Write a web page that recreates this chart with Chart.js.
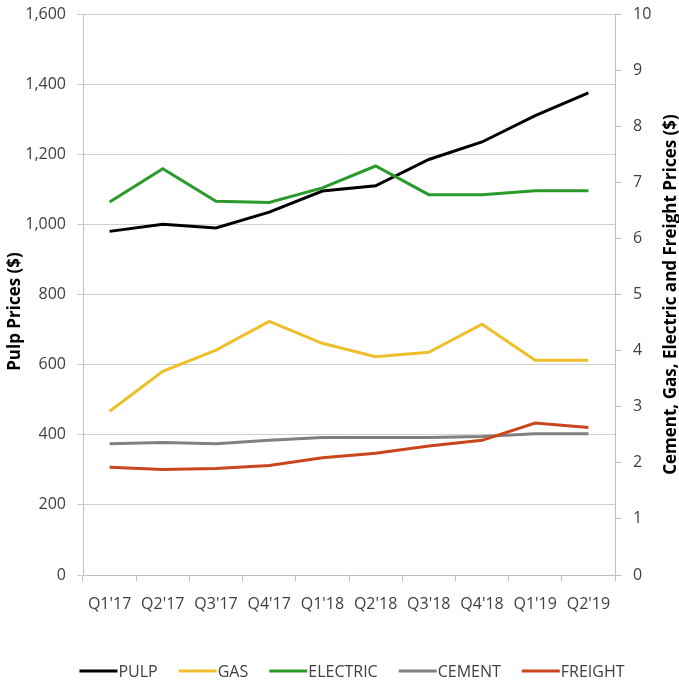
<!DOCTYPE html>
<html>
<head>
<meta charset="utf-8">
<script src="https://cdn.jsdelivr.net/npm/chart.js@4/dist/chart.umd.min.js"></script>
<style>
  html, body { margin: 0; padding: 0; background: #ffffff; }
  #wrap { width: 679px; height: 683px; }
</style>
</head>
<body>
<div id="wrap"><canvas id="chart" width="679" height="683"></canvas></div>
<script>
// Quarterly price series
const quarters = ["Q1'17", "Q2'17", "Q3'17", "Q4'17", "Q1'18", "Q2'18", "Q3'18", "Q4'18", "Q1'19", "Q2'19"];
const pulp     = [980, 1000, 990, 1035, 1095, 1110, 1185, 1235, 1310, 1375];
const gas      = [2.92, 3.63, 4.01, 4.52, 4.13, 3.89, 3.97, 4.47, 3.83, 3.83];
const electric = [6.65, 7.24, 6.66, 6.64, 6.90, 7.29, 6.78, 6.78, 6.85, 6.85];
const cement   = [2.34, 2.36, 2.34, 2.40, 2.45, 2.45, 2.45, 2.47, 2.52, 2.52];
const freight  = [1.92, 1.88, 1.90, 1.95, 2.09, 2.17, 2.30, 2.40, 2.71, 2.63];

// Axis ranges
const pulpAxis  = { min: 0, max: 1600, step: 200 };
const otherAxis = { min: 0, max: 10, step: 1 };

const seriesNames  = ["PULP", "GAS", "ELECTRIC", "CEMENT", "FREIGHT"];
const seriesColors = ["#000000", "#EEBF2A", "#2A9A2A", "#808080", "#C9461C"];

const FONT = "'Open Sans', 'DejaVu Sans', sans-serif";
const tickColor = "#404040";
const gridColor = "#d0d0d0";
const axisColor = "#bfbfbf";

function makeSet(i, data, axis, order) {
  return {
    label: seriesNames[i],
    data: data,
    yAxisID: axis,
    borderColor: seriesColors[i],
    backgroundColor: seriesColors[i],
    borderWidth: 3,
    pointRadius: 0,
    pointHoverRadius: 0,
    tension: 0,
    fill: false,
    order: order
  };
}

// Fixed axis box width; the plot edges come from layout padding only
function fixWidth(w) {
  return function (s) {
    s.width = w;
    s.paddingTop = 0;
    s.paddingBottom = 0;
  };
}

// Legend drawn as line swatches with the label right after each
const lineLegend = {
  id: 'lineLegend',
  afterDraw(chart) {
    const ctx = chart.ctx;
    const area = chart.chartArea;
    const sw = 38, gapText = 1, gapItem = 21;
    ctx.save();
    ctx.font = "16px " + FONT;
    ctx.textBaseline = 'middle';
    const sets = chart.data.datasets;
    let total = 0;
    sets.forEach((d, i) => {
      total += sw + gapText + ctx.measureText(d.label).width;
      if (i < sets.length - 1) total += gapItem;
    });
    let x = (area.left + area.right) / 2 + 3 - total / 2;
    const y = 671;
    sets.forEach(d => {
      ctx.strokeStyle = d.borderColor;
      ctx.lineWidth = 3;
      ctx.beginPath();
      ctx.moveTo(x, y);
      ctx.lineTo(x + sw, y);
      ctx.stroke();
      x += sw + gapText;
      ctx.fillStyle = tickColor;
      ctx.textAlign = 'left';
      ctx.fillText(d.label, x, y + 1);
      x += ctx.measureText(d.label).width + gapItem;
    });
    ctx.restore();
  }
};

// Rotated axis titles, both reading bottom-to-top
const axisTitles = {
  id: 'axisTitles',
  afterDraw(chart) {
    const ctx = chart.ctx;
    const area = chart.chartArea;
    const mid = (area.top + area.bottom) / 2;
    const draw = (text, x, y) => {
      ctx.save();
      ctx.translate(x, y);
      ctx.rotate(-Math.PI / 2);
      ctx.font = "bold 17px " + FONT;
      ctx.fillStyle = "#000000";
      ctx.textAlign = 'center';
      ctx.textBaseline = 'middle';
      ctx.fillText(text, 0, 0);
      ctx.restore();
    };
    draw("Pulp Prices ($)", 15, mid + 17);
    draw("Cement, Gas, Electric and Freight Prices ($)", 671, mid);
  }
};

new Chart(document.getElementById('chart'), {
  type: 'line',
  data: {
    labels: quarters,
    datasets: [
      makeSet(0, pulp, 'yPulp', 5),
      makeSet(1, gas, 'yOther', 4),
      makeSet(2, electric, 'yOther', 3),
      makeSet(3, cement, 'yOther', 2),
      makeSet(4, freight, 'yOther', 1)
    ]
  },
  options: {
    responsive: false,
    animation: false,
    events: [],
    layout: { padding: { top: 14, right: 0, bottom: 40, left: 0 } },
    plugins: {
      legend: { display: false },
      tooltip: { enabled: false },
      title: { display: false }
    },
    scales: {
      x: {
        type: 'category',
        offset: true,
        afterFit(s) { s.height = 68; },
        grid: { drawOnChartArea: false, offset: true, tickLength: 6, color: axisColor },
        border: { color: axisColor, width: 1 },
        ticks: { color: tickColor, font: { family: FONT, size: 16 }, padding: 14, maxRotation: 0, autoSkip: false }
      },
      yPulp: {
        position: 'left',
        min: pulpAxis.min,
        max: pulpAxis.max,
        afterFit: fixWidth(83),
        grid: { color: gridColor, tickLength: 6 },
        border: { color: axisColor, width: 1 },
        ticks: {
          stepSize: pulpAxis.step,
          color: tickColor,
          font: { family: FONT, size: 16 },
          padding: 11,
          callback: v => v.toLocaleString('en-US')
        }
      },
      yOther: {
        position: 'right',
        min: otherAxis.min,
        max: otherAxis.max,
        afterFit: fixWidth(64),
        grid: { drawOnChartArea: false, color: axisColor, tickLength: 6 },
        border: { color: axisColor, width: 1 },
        ticks: {
          stepSize: otherAxis.step,
          color: tickColor,
          font: { family: FONT, size: 16 },
          padding: 12
        }
      }
    }
  },
  plugins: [lineLegend, axisTitles]
});
</script>
</body>
</html>
